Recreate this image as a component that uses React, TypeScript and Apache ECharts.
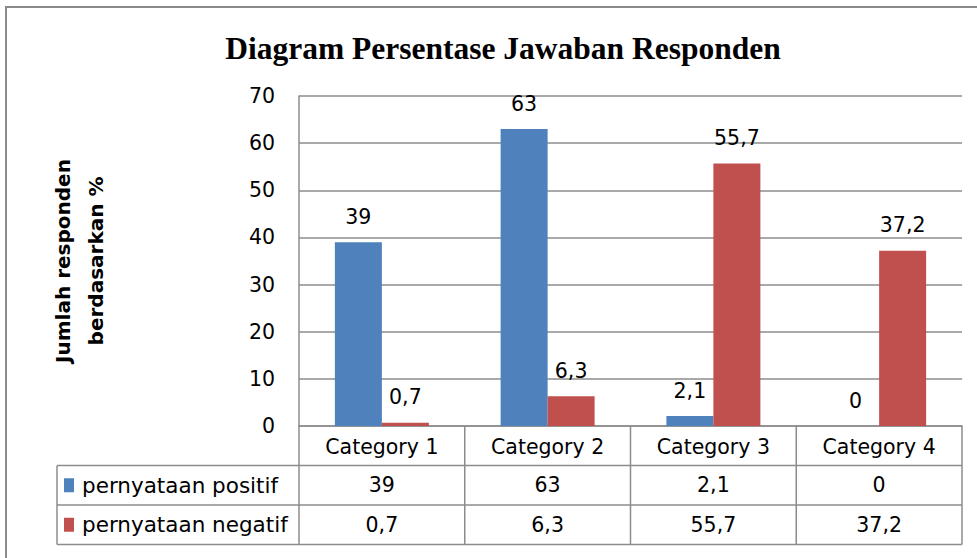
import React, { useEffect, useRef } from "react";
import * as echarts from "echarts";

const categories = ["Category 1", "Category 2", "Category 3", "Category 4"];
const seriesNames = ["pernyataan positif", "pernyataan negatif"];
const positif = [39, 63, 2.1, 0];
const negatif = [0.7, 6.3, 55.7, 37.2];
const colors = ["#4F81BD", "#C0504D"];
const titleText = "Diagram Persentase Jawaban Responden";
const yName = "Jumlah responden\nberdasarkan %";

const fmt = (v: number) => String(v).replace(".", ",");

const W = 977;
const H = 558;
const GRID_L = 299;
const GRID_R = 962;
const GRID_T = 96;
const GRID_B = 426;
const ROW_H = 39.5;
const TABLE_L = 57;
const LINE = "#8C8C8C";
const FONT = "'DejaVu Sans', sans-serif";
const FS = 20.5;

export default function App() {
  const ref = useRef<HTMLDivElement>(null);
  useEffect(() => {
    if (!ref.current) return;
    const chart = echarts.init(ref.current, undefined, { renderer: "svg" });
    const colW = (GRID_R - GRID_L) / categories.length;
    const rows = [positif, negatif];
    const tableBottom = GRID_B + ROW_H * 3;
    const graphics: any[] = [];
    graphics.push({
      type: "rect",
      shape: { x: 6, y: 7, width: 1200, height: 800 },
      style: { fill: "none", stroke: "#8A8A8A", lineWidth: 2 },
      silent: true,
    });
    [1, 2, 3].forEach((k) => {
      graphics.push({
        type: "line",
        shape: { x1: TABLE_L, y1: GRID_B + ROW_H * k, x2: GRID_R, y2: GRID_B + ROW_H * k },
        style: { stroke: LINE, lineWidth: 1.5 },
      });
    });
    graphics.push({
      type: "line",
      shape: { x1: TABLE_L, y1: GRID_B + ROW_H, x2: TABLE_L, y2: tableBottom },
      style: { stroke: LINE, lineWidth: 1.5 },
    });
    for (let i = 0; i <= categories.length; i++) {
      const x = GRID_L + colW * i;
      graphics.push({
        type: "line",
        shape: { x1: x, y1: GRID_B, x2: x, y2: tableBottom },
        style: { stroke: LINE, lineWidth: 1.5 },
      });
    }
    rows.forEach((vals, r) => {
      const cy = GRID_B + ROW_H * (r + 1) + ROW_H / 2;
      graphics.push({
        type: "rect",
        shape: { x: 64, y: cy - 7, width: 10, height: 14 },
        style: { fill: colors[r] },
      });
      graphics.push({
        type: "text",
        x: 82,
        y: cy,
        style: {
          text: seriesNames[r],
          font: `21.5px ${FONT}`,
          fill: "#000",
          textVerticalAlign: "middle",
          textAlign: "left",
        },
      });
      vals.forEach((v, c) => {
        graphics.push({
          type: "text",
          x: GRID_L + colW * c + colW / 2,
          y: cy,
          style: {
            text: fmt(v),
            font: `${FS}px ${FONT}`,
            fill: "#000",
            textVerticalAlign: "middle",
            textAlign: "center",
          },
        });
      });
    });

    chart.setOption({
      animation: false,
      backgroundColor: "#fff",
      title: {
        text: titleText,
        left: 498,
        top: 27,
        textAlign: "center",
        textStyle: {
          fontFamily: "'Liberation Serif', serif",
          fontWeight: "bold",
          fontSize: 31.5,
          color: "#000",
        },
      },
      grid: {
        left: GRID_L,
        right: W - GRID_R,
        top: GRID_T,
        bottom: H - GRID_B,
        containLabel: false,
      },
      xAxis: {
        type: "category",
        data: categories,
        axisLine: { show: true, lineStyle: { color: LINE, width: 1.5 } },
        axisTick: { show: false },
        axisLabel: {
          color: "#000",
          fontFamily: FONT,
          fontSize: FS,
          margin: 10,
        },
      },
      yAxis: {
        type: "value",
        min: 0,
        max: 70,
        interval: 10,
        name: yName,
        nameLocation: "middle",
        nameRotate: 90,
        nameGap: 187,
        nameTextStyle: {
          fontFamily: FONT,
          fontWeight: "bold",
          fontSize: 20,
          color: "#000",
          lineHeight: 33,
        },
        axisLine: { show: true, lineStyle: { color: LINE, width: 1.5 } },
        axisTick: { show: false },
        splitLine: { show: true, lineStyle: { color: LINE, width: 1.5 } },
        axisLabel: {
          color: "#000",
          fontFamily: FONT,
          fontSize: FS,
          margin: 24,
        },
      },
      series: [positif, negatif].map((d, i) => ({
        name: seriesNames[i],
        type: "bar",
        data: d,
        barWidth: 47,
        barGap: "0%",
        itemStyle: { color: colors[i] },
        label: {
          show: true,
          position: "top",
          distance: 15,
          color: "#000",
          fontFamily: FONT,
          fontSize: FS,
          formatter: (p: any) => fmt(p.value),
        },
      })),
      graphic: graphics,
    });
    return () => chart.dispose();
  }, []);
  return (
    <div
      ref={ref}
      style={{ position: "fixed", left: 0, top: 0, width: W, height: H }}
    />
  );
}
